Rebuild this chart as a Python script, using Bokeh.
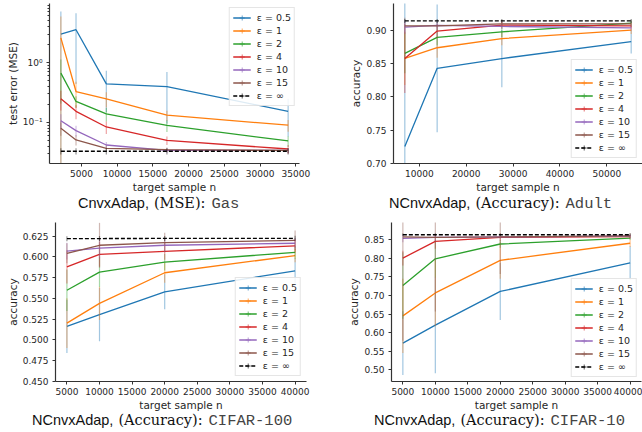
from bokeh.plotting import figure
from bokeh.models import (FixedTicker, Legend, LegendItem, Range1d,
                          PrintfTickFormatter, Div)
from bokeh.layouts import column, row
from bokeh.embed import file_html
from bokeh.resources import INLINE

eps_labels = ["ε = 0.5", "ε = 1", "ε = 2", "ε = 4", "ε = 10", "ε = 15", "ε = ∞"]
colors = ["#1f77b4", "#ff7f0e", "#2ca02c", "#d62728", "#9467bd", "#8c564b", "#000000"]

# ---- Gas (CnvxAdap, MSE) ----
gas_n = [2120, 4240, 8480, 16960, 33920]
gas_mean = [
    [3.0, 3.54, 0.44, 0.396, 0.153],
    [2.58, 0.328, 0.248, 0.132, 0.090],
    [0.667, 0.224, 0.139, 0.089, 0.049],
    [0.248, 0.153, 0.084, 0.050, 0.036],
    [0.107, 0.073, 0.042, 0.034, 0.034],
    [0.080, 0.051, 0.037, 0.035, 0.034],
    [0.033, 0.033, 0.033, 0.033, 0.033],
]
gas_err = [
    [4.1, 3.1, 0.29, 0.30, 0.095],
    [3.3, 0.15, 0.07, 0.025, 0.02],
    [0.46, 0.05, 0.035, 0.02, 0.01],
    [0.09, 0.04, 0.02, 0.008, 0.006],
    [0.03, 0.015, 0.005, 0.003, 0.003],
    [0.02, 0.01, 0.004, 0.003, 0.003],
    [0.004, 0.004, 0.004, 0.004, 0.004],
]
gas_xticks = [5000, 10000, 15000, 20000, 25000, 30000, 35000]

# ---- Adult (NCnvxAdap, accuracy) ----
adult_n = [6900, 13800, 27600, 55200]
adult_mean = [
    [0.7255, 0.843, 0.8577, 0.8833],
    [0.858, 0.874, 0.8877, 0.9005],
    [0.8655, 0.8897, 0.898, 0.911],
    [0.858, 0.899, 0.908, 0.907],
    [0.905, 0.9075, 0.906, 0.904],
    [0.907, 0.907, 0.910, 0.910],
    [0.9143, 0.9143, 0.9143, 0.9143],
]
adult_err = [
    [0.25, 0.096, 0.043, 0.018],
    [0.04, 0.015, 0.01, 0.006],
    [0.03, 0.012, 0.008, 0.004],
    [0.052, 0.01, 0.005, 0.004],
    [0.01, 0.005, 0.004, 0.004],
    [0.012, 0.006, 0.005, 0.005],
    [0.003, 0.003, 0.003, 0.003],
]
adult_xticks = [10000, 20000, 30000, 40000, 50000]
adult_yticks = [0.70, 0.75, 0.80, 0.85, 0.90]

# ---- CIFAR-100 ----
c100_n = [5000, 10000, 20000, 40000]
c100_mean = [
    [0.5164, 0.5305, 0.558, 0.5832],
    [0.5203, 0.544, 0.5809, 0.6016],
    [0.5598, 0.5816, 0.5937, 0.6055],
    [0.5879, 0.6031, 0.6066, 0.6133],
    [0.607, 0.6105, 0.614, 0.6164],
    [0.6043, 0.614, 0.6172, 0.6199],
    [0.6219, 0.6221, 0.6222, 0.6223],
]
c100_err = [
    [0.032, 0.032, 0.021, 0.015],
    [0.03, 0.02, 0.012, 0.008],
    [0.025, 0.018, 0.01, 0.008],
    [0.02, 0.015, 0.01, 0.008],
    [0.01, 0.012, 0.008, 0.006],
    [0.012, 0.027, 0.012, 0.012],
    [0.003, 0.003, 0.003, 0.003],
]
c100_yticks = [0.450, 0.475, 0.500, 0.525, 0.550, 0.575, 0.600, 0.625]

# ---- CIFAR-10 ----
c10_n = [5000, 10000, 20000, 40000]
c10_mean = [
    [0.5717, 0.620, 0.711, 0.788],
    [0.645, 0.707, 0.795, 0.841],
    [0.727, 0.799, 0.839, 0.855],
    [0.801, 0.846, 0.857, 0.859],
    [0.854, 0.857, 0.858, 0.860],
    [0.858, 0.857, 0.858, 0.861],
    [0.864, 0.864, 0.864, 0.864],
]
c10_err = [
    [0.086, 0.13, 0.077, 0.045],
    [0.1, 0.09, 0.05, 0.01],
    [0.09, 0.05, 0.01, 0.005],
    [0.02, 0.02, 0.01, 0.005],
    [0.01, 0.01, 0.005, 0.004],
    [0.28, 0.2, 0.1, 0.008],
    [0.003, 0.003, 0.003, 0.003],
]
cifar_xticks = [5000, 10000, 15000, 20000, 25000, 30000, 35000, 40000]
c10_yticks = [0.50, 0.55, 0.60, 0.65, 0.70, 0.75, 0.80, 0.85]

captions = [
    ("CnvxAdap,", "(MSE):", "Gas"),
    ("NCnvxAdap,", "(Accuracy):", "Adult"),
    ("NCnvxAdap,", "(Accuracy):", "CIFAR-100"),
    ("NCnvxAdap,", "(Accuracy):", "CIFAR-10"),
]

TXT = "#262626"


def make_panel(n, means, errs, xr, yr, xticks, yticks, yfmt, ylabel,
               size, borders, leg_loc, leg_margin, log=False):
    w, h = size
    bl, br, bt, bb = borders
    p = figure(width=w, height=h, output_backend="svg", toolbar_location=None,
               x_range=Range1d(*xr), y_range=Range1d(*yr),
               y_axis_type="log" if log else "linear",
               min_border_left=bl, min_border_right=br,
               min_border_top=bt, min_border_bottom=bb)
    p.outline_line_color = None
    p.grid.visible = False
    off_x = [xr[0] - 10 * (xr[1] - xr[0])]
    items = []
    for i in range(len(means)):
        m = means[i]
        e = errs[i]
        lo = [max(a - b, 1e-4) if log else a - b for a, b in zip(m, e)]
        hi = [a + b for a, b in zip(m, e)]
        dash = "4 2" if i == len(means) - 1 else "solid"
        lr = p.line(n, m, line_color=colors[i], line_width=1.3, line_dash=dash)
        p.segment(x0=n, y0=lo, x1=n, y1=hi, line_color=colors[i],
                  line_alpha=0.42, line_width=1.2)
        # legend-only marker (placed outside the visible x range)
        mk = p.scatter(x=off_x, y=[m[0]], marker="cross", size=8, line_color=colors[i],
                       line_alpha=0.55, line_width=1.2)
        items.append(LegendItem(label=eps_labels[i], renderers=[lr, mk]))

    leg = Legend(items=items, location=leg_loc, padding=3, spacing=0,
                 margin=leg_margin,
                 label_height=13, glyph_height=13, glyph_width=18,
                 label_standoff=6, label_text_font="DejaVu Sans",
                 label_text_font_size="9.5px", label_text_color=TXT,
                 border_line_color="#cccccc", border_line_width=1,
                 background_fill_alpha=0.85)
    p.add_layout(leg, "center")

    for ax in (p.xaxis[0], p.yaxis[0]):
        ax.axis_line_color = "#333333"
        ax.axis_line_width = 1.2
        ax.major_tick_line_color = "#333333"
        ax.major_tick_out = 3
        ax.major_tick_in = 0
        ax.major_label_text_font = "DejaVu Sans"
        ax.major_label_text_font_size = "9px"
        ax.major_label_text_color = TXT
        ax.axis_label_text_font = "DejaVu Sans"
        ax.axis_label_text_font_size = "10.5px"
        ax.axis_label_text_font_style = "normal"
        ax.axis_label_text_color = TXT
        ax.axis_label_standoff = 1
    p.xaxis.ticker = FixedTicker(ticks=xticks)
    p.xaxis.formatter = PrintfTickFormatter(format="%d")
    p.xaxis.minor_tick_line_color = None
    p.xaxis.major_label_standoff = 3
    p.xaxis.axis_label = "target sample n"
    p.yaxis.axis_label = ylabel
    p.yaxis.major_label_standoff = 4
    if log:
        minors = [k * 0.01 for k in range(2, 10)] + [k * 0.1 for k in range(2, 10)] + list(range(2, 10))
        p.yaxis.ticker = FixedTicker(ticks=[0.1, 1.0], minor_ticks=minors)
        p.yaxis.major_label_overrides = {0.1: "10⁻¹", 1.0: "10⁰", "0.1": "10⁻¹", "1": "10⁰"}
        p.yaxis.minor_tick_line_color = "#333333"
        p.yaxis.minor_tick_out = 2
        p.yaxis.minor_tick_in = 0
    else:
        p.yaxis.ticker = FixedTicker(ticks=yticks)
        p.yaxis.formatter = PrintfTickFormatter(format=yfmt)
        p.yaxis.minor_tick_line_color = None
    return p


def make_caption(parts, x0, height, top):
    a, b, c = parts
    html = (
        f'<div style="position:relative;width:321px;height:{height}px;color:#111;">'
        f'<div style="position:absolute;top:{top}px;left:{x0}px;line-height:16px;white-space:nowrap;">'
        f'<span style="font-family:\'Liberation Sans\';font-size:14.5px;">{a}</span>'
        f'<span style="font-family:\'DejaVu Serif\';font-size:14.5px;margin-left:5px;">{b}</span>'
        f'<span style="font-family:\'Liberation Mono\';font-size:15.5px;color:#444;margin-left:6px;">{c}</span>'
        f'</div></div>'
    )
    return Div(text=html, width=321, height=height, margin=0)


TOP = (321, 195)
BOT = (321, 197)

p1 = make_panel(gas_n, gas_mean, gas_err, (530, 35510), (0.0206, 9.7), gas_xticks, None,
                None, "test error (MSE)", TOP, (49, 22, 3, 29), "top_right", 4, log=True)
p2 = make_panel(adult_n, adult_mean, adult_err, (4485, 57615), (0.70, 0.9405), adult_xticks,
                adult_yticks, "%.2f", "accuracy", TOP, (72, 0, 3, 29), "bottom_right", 5)
p3 = make_panel(c100_n, c100_mean, c100_err, (3250, 41750), (0.45, 0.6414), cifar_xticks,
                c100_yticks, "%.3f", "accuracy", BOT, (55, 15, 6, 28), "bottom_right", 5)
p4 = make_panel(c10_n, c10_mean, c10_err, (3250, 41750), (0.468, 0.897), cifar_xticks,
                c10_yticks, "%.2f", "accuracy", BOT, (70, 1, 6, 28), "bottom_right", 4)

d1 = make_caption(captions[0], 78, 21, 0)
d2 = make_caption(captions[1], 68, 21, 0)
d3 = make_caption(captions[2], 32, 19, -1)
d4 = make_caption(captions[3], 53, 19, -1)

layout = column(row(p1, p2), row(d1, d2), row(p3, p4), row(d3, d4))
open("out.html", "w").write(file_html(layout, INLINE))
